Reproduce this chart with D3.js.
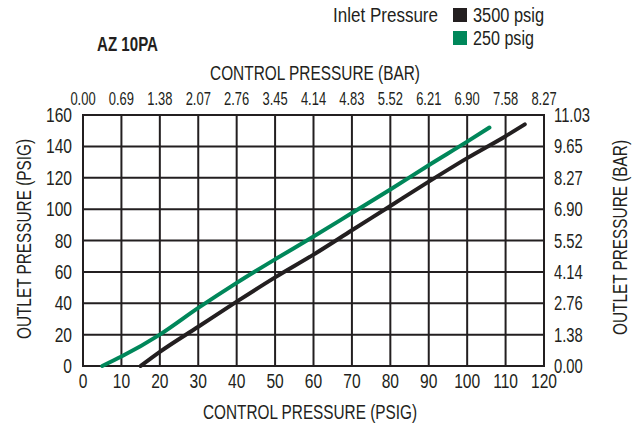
<!DOCTYPE html>
<html>
<head>
<meta charset="utf-8">
<script src="https://cdn.jsdelivr.net/npm/d3@7"></script>
<style>
  body { margin: 0; background: #fff; }
  svg text { font-family: "Liberation Sans", Arial, sans-serif; fill: #231f20; }
</style>
</head>
<body>
<svg id="chart" width="641" height="427"></svg>
<script>
// -------------------------------------------------------------
// Data
// -------------------------------------------------------------
const xTicksPsig = [0, 10, 20, 30, 40, 50, 60, 70, 80, 90, 100, 110, 120];
const xTicksBar = ["0.00", "0.69", "1.38", "2.07", "2.76", "3.45", "4.14", "4.83", "5.52", "6.21", "6.90", "7.58", "8.27"];
const yTicksPsig = [0, 20, 40, 60, 80, 100, 120, 140, 160];
const yTicksBar = ["0.00", "1.38", "2.76", "4.14", "5.52", "6.90", "8.27", "9.65", "11.03"];

// control pressure (psig) -> outlet pressure (psig)
const inlet3500 = [
  [15, 0], [20, 9], [30, 25], [40, 41], [50, 56.5], [60, 71], [70, 86.5],
  [80, 102], [90, 117.5], [100, 132.5], [110, 146.5], [115, 154]
];
const inlet250 = [
  [5, 0], [10, 6], [20, 20], [30, 37], [40, 53], [50, 68], [60, 82.5],
  [70, 97.5], [80, 112.5], [90, 128], [100, 143], [105.8, 152]
];

const SERIES = [
  { name: "3500 psig", color: "#231f20", values: inlet3500 },
  { name: "250 psig", color: "#00875a", values: inlet250 }
];

// -------------------------------------------------------------
// Layout
// -------------------------------------------------------------
const svg = d3.select("#chart");
const plot = { left: 83, right: 544, top: 115, bottom: 366 };
const ink = "#231f20";
const SX = 0.8;   // horizontal squeeze to mimic the condensed face

const x = d3.scaleLinear().domain([0, 120]).range([plot.left, plot.right]);
const y = d3.scaleLinear().domain([0, 160]).range([plot.bottom, plot.top]);

// ---- Grid ----
const grid = svg.append("g");
grid.selectAll("line.v")
  .data(xTicksPsig)
  .join("line")
  .attr("class", "v")
  .attr("x1", d => x(d)).attr("x2", d => x(d))
  .attr("y1", plot.top - 1).attr("y2", plot.bottom + 1)
  .attr("stroke", ink).attr("stroke-width", 2);

grid.selectAll("line.h")
  .data(yTicksPsig)
  .join("line")
  .attr("class", "h")
  .attr("x1", plot.left - 1).attr("x2", plot.right + 1)
  .attr("y1", d => y(d)).attr("y2", d => y(d))
  .attr("stroke", ink).attr("stroke-width", 2);

// ---- Tick labels (squeezed) ----
function ticks(data, px, py, anchor, size, sx) {
  svg.append("g").selectAll("text")
    .data(data)
    .join("text")
    .attr("transform", (d, i) => `translate(${px(d, i)},${py(d, i)}) scale(${sx},1)`)
    .attr("text-anchor", anchor)
    .attr("font-size", size)
    .text(d => d);
}

ticks(xTicksPsig, d => x(d), () => 388, "middle", 19.5, SX);
ticks(xTicksBar, (d, i) => x(xTicksPsig[i]), () => 105, "middle", 18, 0.72);
ticks(yTicksPsig, () => 72, d => y(d) + 7, "end", 19.5, SX);
ticks(yTicksBar, () => 554, (d, i) => y(yTicksPsig[i]) + 7, "start", 19.5, 0.76);

// ---- Axis titles ----
svg.append("text")
  .attr("x", 203).attr("y", 419)
  .attr("font-size", 19.5)
  .attr("textLength", 214).attr("lengthAdjust", "spacingAndGlyphs")
  .text("CONTROL PRESSURE (PSIG)");

svg.append("text")
  .attr("x", 210).attr("y", 80)
  .attr("font-size", 19.5)
  .attr("textLength", 210).attr("lengthAdjust", "spacingAndGlyphs")
  .text("CONTROL PRESSURE (BAR)");

svg.append("text")
  .attr("transform", "translate(31,339) rotate(-90)")
  .attr("font-size", 19.5)
  .attr("textLength", 200).attr("lengthAdjust", "spacingAndGlyphs")
  .text("OUTLET PRESSURE (PSIG)");

svg.append("text")
  .attr("transform", "translate(627,335) rotate(-90)")
  .attr("font-size", 19.5)
  .attr("textLength", 195).attr("lengthAdjust", "spacingAndGlyphs")
  .text("OUTLET PRESSURE (BAR)");

// ---- Curves ----
const line = d3.line()
  .x(d => x(d[0]))
  .y(d => y(d[1]))
  .curve(d3.curveMonotoneX);

svg.append("g").selectAll("path")
  .data(SERIES)
  .join("path")
  .attr("d", d => line(d.values))
  .attr("fill", "none")
  .attr("stroke", d => d.color)
  .attr("stroke-width", 4)
  .attr("stroke-linecap", "round");

// ---- Title + legend ----
svg.append("text")
  .attr("x", 97).attr("y", 51)
  .attr("font-size", 20).attr("font-weight", "bold")
  .attr("textLength", 61).attr("lengthAdjust", "spacingAndGlyphs")
  .text("AZ 10PA");

svg.append("text")
  .attr("x", 333).attr("y", 22)
  .attr("font-size", 19.5)
  .attr("textLength", 105).attr("lengthAdjust", "spacingAndGlyphs")
  .text("Inlet Pressure");

const legendWidths = [71, 61];
const legend = svg.append("g").selectAll("g")
  .data(SERIES)
  .join("g")
  .attr("transform", (d, i) => `translate(453,${8 + i * 23})`);

legend.append("rect")
  .attr("width", 14).attr("height", 14)
  .attr("fill", d => d.color);

legend.append("text")
  .attr("x", 20).attr("y", 14)
  .attr("font-size", 19.5)
  .attr("textLength", (d, i) => legendWidths[i]).attr("lengthAdjust", "spacingAndGlyphs")
  .text(d => d.name);
</script>
</body>
</html>
